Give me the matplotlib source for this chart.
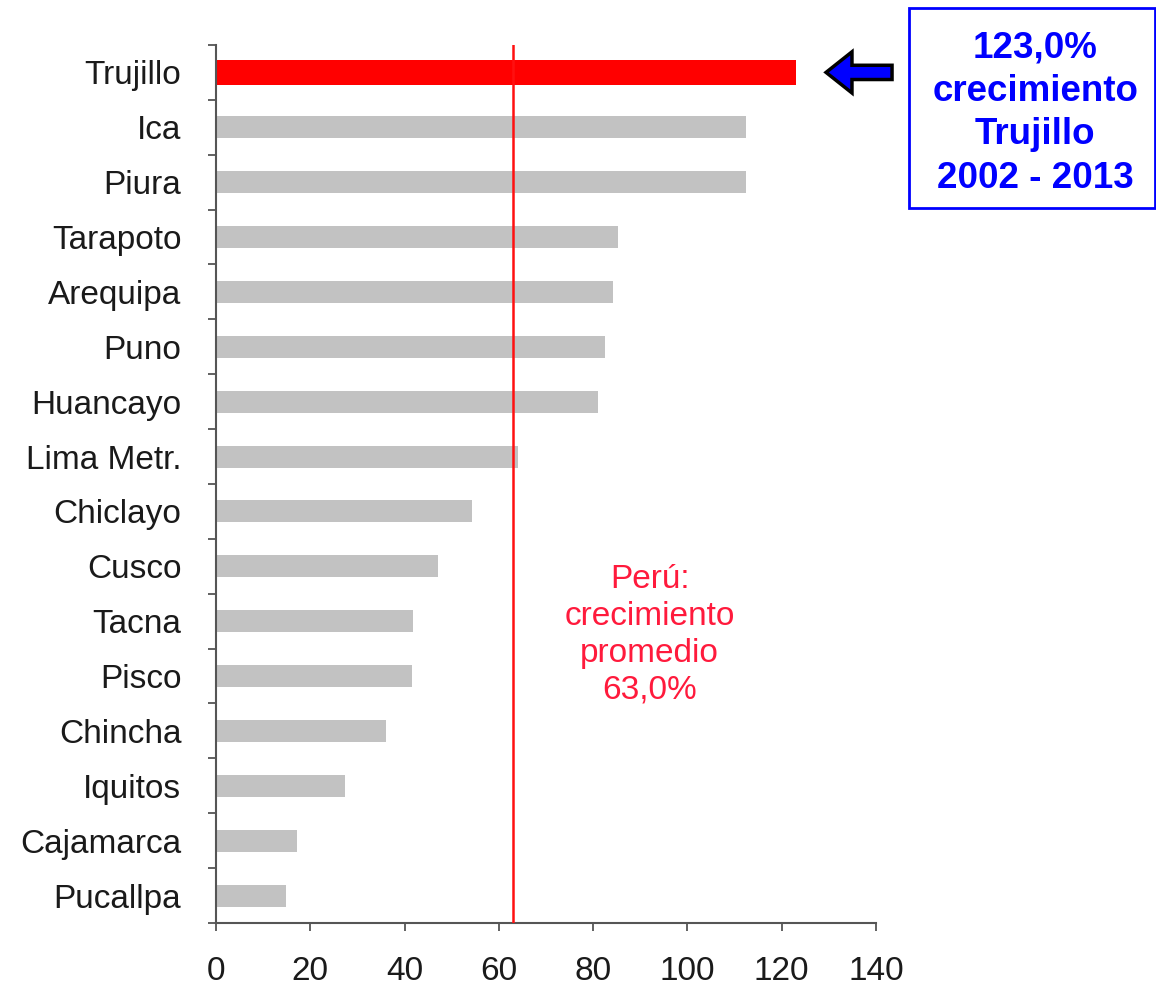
import matplotlib.pyplot as plt
from matplotlib.patches import FancyArrow, Rectangle
import numpy as np

plt.rcParams['font.family'] = ['Liberation Sans', 'DejaVu Sans']

cities = ['Trujillo', 'Ica', 'Piura', 'Tarapoto', 'Arequipa', 'Puno', 'Huancayo',
          'Lima Metr.', 'Chiclayo', 'Cusco', 'Tacna', 'Pisco', 'Chincha',
          'Iquitos', 'Cajamarca', 'Pucallpa']
growth = [123.0, 112.5, 112.5, 85.3, 84.2, 82.5, 81.0, 64.0, 54.3, 47.0,
          41.8, 41.6, 36.0, 27.4, 17.2, 14.8]
peru_avg = 63.0
xticks = [0, 20, 40, 60, 80, 100, 120, 140]

fig = plt.figure(figsize=(11.56, 9.88), dpi=100)
ax = fig.add_axes([0.1869, 0.0658, 0.5709, 0.8887])

y = np.arange(len(cities))
ax.barh(y[1:], growth[1:], height=0.40, color='#c2c2c2', zorder=1)
ax.barh(y[0], growth[0], height=0.46, color='#ff0000', zorder=2)
ax.axvline(peru_avg, color='#ff1010', lw=1.8, zorder=3)

ax.set_xlim(0, 140)
ax.set_ylim(len(cities) - 0.5, -0.5)
ax.set_xticks(xticks)
ax.set_yticks(y)
ax.set_yticklabels(cities)
ax.set_yticks(np.arange(len(cities) + 1) - 0.5, minor=True)
ax.tick_params(axis='y', which='major', length=0, pad=25, labelsize=24, labelcolor='#1a1a1a')
ax.tick_params(axis='y', which='minor', length=6, width=1.3, color='#555555')
ax.tick_params(axis='x', length=6, width=1.3, color='#555555', pad=18, labelsize=24,
               labelcolor='#1a1a1a')
for s in ['top', 'right']:
    ax.spines[s].set_visible(False)
for s in ['left', 'bottom']:
    ax.spines[s].set_color('#555555')
    ax.spines[s].set_linewidth(1.5)

ax.text(92, 10.25, 'Perú:\ncrecimiento\npromedio\n63,0%', color='#ff1a3c',
        fontsize=24, ha='center', va='center', linespacing=1.25)

# arrow pointing to Trujillo bar
arr = FancyArrow(143.4, 0.0, -14.0, 0.0, width=0.26, head_width=0.75, head_length=5.5,
                 length_includes_head=True, facecolor='#0000ff', edgecolor='black',
                 lw=2.5, clip_on=False, zorder=5)
ax.add_patch(arr)

fig.patches.append(Rectangle((0.7865, 0.7895), 0.2125, 0.2024, transform=fig.transFigure,
                             fill=False, edgecolor='#0000ff', lw=2))
fig.text(0.8955, 0.8855, '123,0%\ncrecimiento\nTrujillo\n2002 - 2013', color='#0000ff',
         fontsize=26.5, fontweight='bold', ha='center', va='center', linespacing=1.32)

plt.savefig('out.png', dpi=100)
